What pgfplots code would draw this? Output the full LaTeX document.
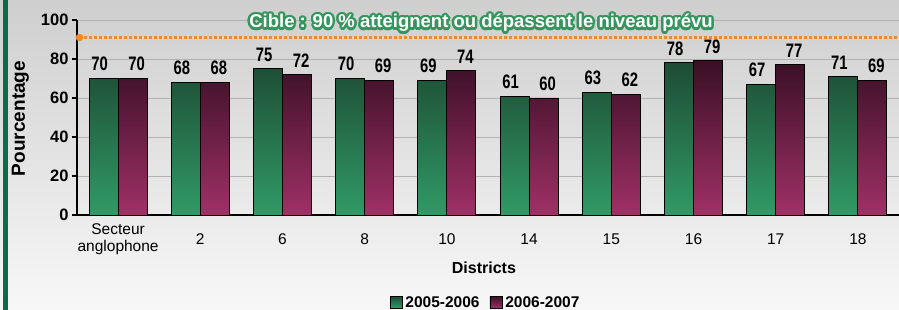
\documentclass[border=0pt]{standalone}
\usepackage{fontspec}
\setmainfont{Liberation Sans}
\usepackage{pgfplots}
\pgfplotsset{compat=1.18}
\usetikzlibrary{calc}
\definecolor{gtop}{RGB}{30,76,52}
\definecolor{gbot}{RGB}{48,154,102}
\definecolor{mtop}{RGB}{58,16,38}
\definecolor{mbot}{RGB}{160,48,102}
\definecolor{borderg}{RGB}{14,106,76}
\definecolor{tgt}{RGB}{240,138,36}
\definecolor{cibleg}{RGB}{52,150,92}
\begin{document}
\begin{tikzpicture}[x=1pt,y=1pt]
\shade[top color=black!19, bottom color=black!3] (0,0) rectangle (899,310);
\useasboundingbox (0,0) rectangle (899,310);
\fill[borderg] (3,0) rectangle (8,310);
\begin{axis}[
  at={(77pt,95pt)}, anchor=south west,
  scale only axis, width=822pt, height=195pt,
  xmin=-0.5, xmax=9.5, ymin=0, ymax=100,
  clip=false,
  axis x line*=bottom, axis y line*=left,
  axis line style={line width=1.8pt, -},
  ytick={0,20,...,100},
  ymajorgrids, grid style={black!30, line width=0.8pt},
  tick align=outside,
  ytick style={black, line width=1.4pt},
  major tick length=5pt,
  yticklabel style={font=\fontsize{16.5}{16}\selectfont\bfseries},
  /pgf/number format/assume math mode=true,
  xtick={0,...,9},
  xticklabels={{Secteur\\anglophone},2,6,8,10,14,15,16,17,18},
  xtick style={draw=none},
  minor xtick={-0.5,0.5,...,9.5},
  minor tick length=6pt,
  minor x tick style={black, line width=1.4pt},
  xticklabel style={font=\fontsize{15.5}{17}\selectfont, align=center, anchor=center, yshift=-19pt},
  xlabel={Districts},
  xlabel style={at={(axis description cs:0.495,-0.272)}, anchor=center, font=\fontsize{16}{16}\selectfont\bfseries},
  ylabel={Pourcentage},
  ylabel style={at={(axis description cs:-0.069,0.495)}, anchor=center, font=\fontsize{19}{19}\selectfont\bfseries},
  legend style={at={(0.497,-0.452)}, anchor=center, legend columns=2, draw=none, fill=none,
    font=\fontsize{15.5}{15}\selectfont\bfseries,
    /tikz/every odd column/.append style={column sep=1pt},
    /tikz/every even column/.append style={column sep=8pt}},
  legend image code/.code={\draw[#1, draw=black, line width=0.8pt] (0pt,-5pt) rectangle (12pt,7pt);},
  every node near coord/.append style={text=black, font=\fontsize{19.5}{19}\selectfont\bfseries, inner sep=0pt, anchor=south, yshift=7pt},
  nodes near coords={\scalebox{0.76}[1]{\pgfmathprintnumber\pgfplotspointmeta}},
]
\addplot[ybar, bar width=29pt, bar shift=-14.5pt, draw=black, line width=0.9pt,
  top color=gtop, bottom color=gbot,
  every node near coord/.append style={xshift=-18.5pt}]
  coordinates {(0,70) (1,68) (2,75) (3,70) (4,69) (5,61) (6,63) (7,78) (8,67) (9,71)};
\addlegendentry{2005-2006}
\addplot[ybar, bar width=29pt, bar shift=14.5pt, draw=black, line width=0.9pt,
  top color=mtop, bottom color=mbot,
  every node near coord/.append style={xshift=18.5pt}]
  coordinates {(0,70) (1,68) (2,72) (3,69) (4,74) (5,60) (6,62) (7,79) (8,77) (9,69)};
\addlegendentry{2006-2007}
\addplot[forget plot, tgt, line width=3pt, dash pattern=on 3pt off 2pt, nodes near coords={}]
  coordinates {(-0.47,91) (9.5,91)};
\addplot[forget plot, only marks, mark=*, mark size=3.5pt, tgt, nodes near coords={}]
  coordinates {(-0.47,91)};
\end{axis}
\foreach \a in {0,22.5,...,337.5}
  \node[text=cibleg, font=\fontsize{18.5}{18}\selectfont\bfseries] at ($(481,287)+(\a:2.4)$) {Cible : 90 \% atteignent ou dépassent le niveau prévu};
\foreach \a in {0,45,...,315}
  \node[text=cibleg, font=\fontsize{18.5}{18}\selectfont\bfseries] at ($(481,287)+(\a:1.2)$) {Cible : 90 \% atteignent ou dépassent le niveau prévu};
\node[text=white, font=\fontsize{18.5}{18}\selectfont\bfseries] at (481,287) {Cible : 90 \% atteignent ou dépassent le niveau prévu};
\end{tikzpicture}
\end{document}
